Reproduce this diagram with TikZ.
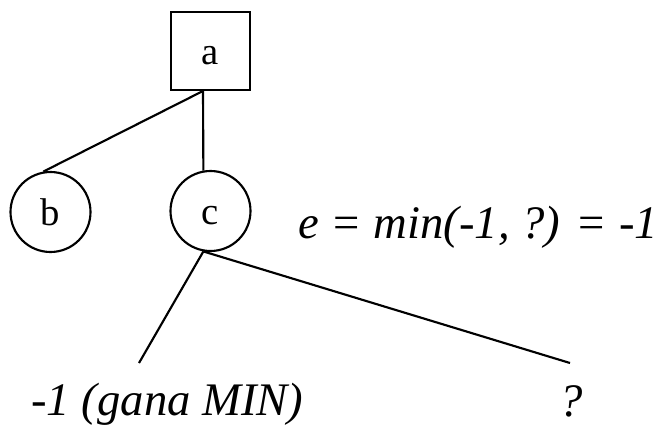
\documentclass[tikz,border=0pt]{standalone}
\usepackage{fontspec}
\setmainfont{Liberation Serif}
\begin{document}
\begin{tikzpicture}[x=0.75pt,y=-0.75pt,
  edge/.style={line width=1.6pt},
  sqnode/.style={draw,line width=1.7pt,minimum width=59pt,minimum height=58.5pt,inner sep=0pt,text height=19.5pt,text depth=0pt,font=\fontsize{29}{32}\selectfont},
  cnode/.style={draw,circle,line width=1.6pt,minimum size=60pt,inner sep=0pt,text height=19.5pt,text depth=0pt,font=\fontsize{29}{32}\selectfont},
  lbl/.style={inner sep=0pt,font=\fontsize{35}{40}\selectfont\itshape}]
\useasboundingbox (0,0) rectangle (666,425);
\node[sqnode] (a) at (210.5,51) {a};
\node[cnode] (b) at (50.5,212) {b};
\node[cnode] (c) at (210.5,211) {c};
\coordinate (ja) at (203,91);
\coordinate (l1) at (139,363);
\coordinate (l2) at (570,363);
\draw[edge] (ja) -- (b.100);
\draw[edge] (ja) -- (c.100);
\draw[edge] (c.260) -- (l1);
\draw[edge] (c.260) -- (l2);
\node[lbl,anchor=base west] (eq) at (298,238) {e = min(-1, ?) = -1};
\node[lbl,anchor=base west] (v1) at (31,415) {-1 (gana MIN)};
\node[lbl,anchor=base] (v2) at (571,416) {?};
\end{tikzpicture}
\end{document}
